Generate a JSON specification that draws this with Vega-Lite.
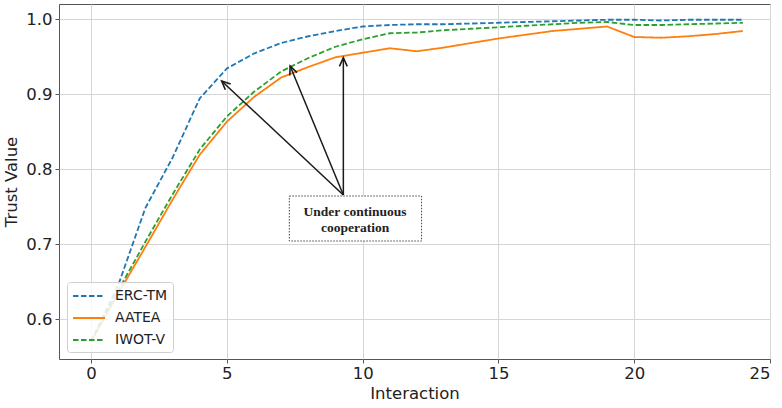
{
  "$schema": "https://vega.github.io/schema/vega-lite/v6.json",
  "width": 711,
  "height": 355,
  "autosize": {"type": "none"},
  "padding": {"left": 59, "top": 4, "right": 12, "bottom": 49},
  "background": "white",
  "config": {
    "view": {"stroke": "#555", "strokeWidth": 1},
    "axis": {
      "domain": false,
      "grid": true,
      "gridColor": "#d6d6d6",
      "gridWidth": 1,
      "tickColor": "#555",
      "tickSize": 4,
      "labelFont": "DejaVu Sans",
      "labelFontSize": 16.5,
      "labelColor": "#222",
      "titleFont": "DejaVu Sans",
      "titleFontSize": 16.5,
      "titleFontWeight": "normal",
      "titleColor": "#222"
    },
    "legend": {
      "labelFont": "DejaVu Sans",
      "labelFontSize": 14,
      "labelColor": "#222"
    }
  },
  "datasets": {
    "series": [
      {"x": 0, "series": "ERC-TM", "y": 0.570},
      {"x": 1, "series": "ERC-TM", "y": 0.645},
      {"x": 2, "series": "ERC-TM", "y": 0.748},
      {"x": 3, "series": "ERC-TM", "y": 0.815},
      {"x": 4, "series": "ERC-TM", "y": 0.894},
      {"x": 5, "series": "ERC-TM", "y": 0.934},
      {"x": 6, "series": "ERC-TM", "y": 0.954},
      {"x": 7, "series": "ERC-TM", "y": 0.968},
      {"x": 8, "series": "ERC-TM", "y": 0.977},
      {"x": 9, "series": "ERC-TM", "y": 0.984},
      {"x": 10, "series": "ERC-TM", "y": 0.990},
      {"x": 11, "series": "ERC-TM", "y": 0.992},
      {"x": 12, "series": "ERC-TM", "y": 0.993},
      {"x": 13, "series": "ERC-TM", "y": 0.993},
      {"x": 14, "series": "ERC-TM", "y": 0.994},
      {"x": 15, "series": "ERC-TM", "y": 0.995},
      {"x": 16, "series": "ERC-TM", "y": 0.996},
      {"x": 17, "series": "ERC-TM", "y": 0.997},
      {"x": 18, "series": "ERC-TM", "y": 0.998},
      {"x": 19, "series": "ERC-TM", "y": 0.999},
      {"x": 20, "series": "ERC-TM", "y": 0.999},
      {"x": 21, "series": "ERC-TM", "y": 0.998},
      {"x": 22, "series": "ERC-TM", "y": 0.999},
      {"x": 23, "series": "ERC-TM", "y": 0.999},
      {"x": 24, "series": "ERC-TM", "y": 0.999},
      {"x": 0, "series": "AATEA", "y": 0.570},
      {"x": 1, "series": "AATEA", "y": 0.634},
      {"x": 2, "series": "AATEA", "y": 0.696},
      {"x": 3, "series": "AATEA", "y": 0.759},
      {"x": 4, "series": "AATEA", "y": 0.819},
      {"x": 5, "series": "AATEA", "y": 0.863},
      {"x": 6, "series": "AATEA", "y": 0.896},
      {"x": 7, "series": "AATEA", "y": 0.922},
      {"x": 8, "series": "AATEA", "y": 0.936},
      {"x": 9, "series": "AATEA", "y": 0.949},
      {"x": 10, "series": "AATEA", "y": 0.955},
      {"x": 11, "series": "AATEA", "y": 0.961},
      {"x": 12, "series": "AATEA", "y": 0.957},
      {"x": 13, "series": "AATEA", "y": 0.962},
      {"x": 14, "series": "AATEA", "y": 0.968},
      {"x": 15, "series": "AATEA", "y": 0.974},
      {"x": 16, "series": "AATEA", "y": 0.979},
      {"x": 17, "series": "AATEA", "y": 0.984},
      {"x": 18, "series": "AATEA", "y": 0.987},
      {"x": 19, "series": "AATEA", "y": 0.990},
      {"x": 20, "series": "AATEA", "y": 0.976},
      {"x": 21, "series": "AATEA", "y": 0.975},
      {"x": 22, "series": "AATEA", "y": 0.977},
      {"x": 23, "series": "AATEA", "y": 0.980},
      {"x": 24, "series": "AATEA", "y": 0.984},
      {"x": 0, "series": "IWOT-V", "y": 0.570},
      {"x": 1, "series": "IWOT-V", "y": 0.638},
      {"x": 2, "series": "IWOT-V", "y": 0.703},
      {"x": 3, "series": "IWOT-V", "y": 0.766},
      {"x": 4, "series": "IWOT-V", "y": 0.826},
      {"x": 5, "series": "IWOT-V", "y": 0.870},
      {"x": 6, "series": "IWOT-V", "y": 0.903},
      {"x": 7, "series": "IWOT-V", "y": 0.930},
      {"x": 8, "series": "IWOT-V", "y": 0.948},
      {"x": 9, "series": "IWOT-V", "y": 0.963},
      {"x": 10, "series": "IWOT-V", "y": 0.973},
      {"x": 11, "series": "IWOT-V", "y": 0.981},
      {"x": 12, "series": "IWOT-V", "y": 0.982},
      {"x": 13, "series": "IWOT-V", "y": 0.985},
      {"x": 14, "series": "IWOT-V", "y": 0.987},
      {"x": 15, "series": "IWOT-V", "y": 0.989},
      {"x": 16, "series": "IWOT-V", "y": 0.991},
      {"x": 17, "series": "IWOT-V", "y": 0.993},
      {"x": 18, "series": "IWOT-V", "y": 0.995},
      {"x": 19, "series": "IWOT-V", "y": 0.996},
      {"x": 20, "series": "IWOT-V", "y": 0.992},
      {"x": 21, "series": "IWOT-V", "y": 0.992},
      {"x": 22, "series": "IWOT-V", "y": 0.993},
      {"x": 23, "series": "IWOT-V", "y": 0.994},
      {"x": 24, "series": "IWOT-V", "y": 0.995}
    ],
    "arrows": [
      {"x": 9.29, "y": 0.7653, "x2": 4.81, "y2": 0.9173, "angle": -46.8},
      {"x": 9.29, "y": 0.7653, "x2": 7.33, "y2": 0.9373, "angle": -22.4},
      {"x": 9.29, "y": 0.7653, "x2": 9.29, "y2": 0.9484, "angle": 0}
    ],
    "box": [
      {"x": 7.30, "x2": 12.17, "y": 0.764, "y2": 0.704, "tx": 9.72, "ty": 0.7431, "label": ["Under continuous", "cooperation"]}
    ]
  },
  "layer": [
    {
      "data": {"name": "series"},
      "mark": {"type": "line", "strokeWidth": 1.8, "clip": true},
      "encoding": {
        "x": {
          "field": "x", "type": "quantitative",
          "scale": {"domain": [-1.18, 25.0], "nice": false, "zero": false},
          "axis": {"values": [0, 5, 10, 15, 20, 25], "title": "Interaction", "labelPadding": 2, "titlePadding": 4}
        },
        "y": {
          "field": "y", "type": "quantitative",
          "scale": {"domain": [0.5467, 1.02], "nice": false, "zero": false},
          "axis": {"values": [0.6, 0.7, 0.8, 0.9, 1.0], "format": ".1f", "title": "Trust Value", "labelPadding": 3, "titlePadding": 6}
        },
        "color": {
          "field": "series", "type": "nominal",
          "scale": {"domain": ["ERC-TM", "AATEA", "IWOT-V"], "range": ["#1f77b4", "#ff7f0e", "#2ca02c"]},
          "legend": {
            "title": null,
            "orient": "none",
            "legendX": 8,
            "legendY": 278,
            "symbolType": "M -1 0 L 3 0",
            "symbolSize": 256,
            "symbolStrokeWidth": 2,
            "symbolFillColor": "transparent",
            "rowPadding": 6,
            "labelOffset": 25,
            "padding": 5,
            "fillColor": "rgba(255,255,255,0.85)",
            "strokeColor": "#d0d0d0",
            "cornerRadius": 3
          }
        },
        "strokeDash": {
          "field": "series", "type": "nominal",
          "scale": {"domain": ["ERC-TM", "AATEA", "IWOT-V"], "range": [[5.5, 2.5], [1, 0], [5.5, 2.5]]},
          "legend": null
        }
      }
    },
    {
      "data": {"name": "box"},
      "mark": {"type": "rect", "fill": "white", "stroke": "#444", "strokeWidth": 1, "strokeDash": [1.5, 1.5]},
      "encoding": {
        "x": {"field": "x", "type": "quantitative"},
        "x2": {"field": "x2"},
        "y": {"field": "y", "type": "quantitative"},
        "y2": {"field": "y2"}
      }
    },
    {
      "data": {"name": "box"},
      "mark": {"type": "text", "font": "Liberation Serif", "fontWeight": "bold", "fontSize": 13.5, "color": "#222", "align": "center", "baseline": "middle", "lineHeight": 16.6},
      "encoding": {
        "x": {"field": "tx", "type": "quantitative"},
        "y": {"field": "ty", "type": "quantitative"},
        "text": {"field": "label"}
      }
    },
    {
      "data": {"name": "arrows"},
      "mark": {"type": "rule", "color": "#1a1a1a", "strokeWidth": 1.5},
      "encoding": {
        "x": {"field": "x", "type": "quantitative"},
        "y": {"field": "y", "type": "quantitative"},
        "x2": {"field": "x2"},
        "y2": {"field": "y2"}
      }
    },
    {
      "data": {"name": "arrows"},
      "mark": {"type": "point", "shape": "M -0.45 1 L 0 0 L 0.45 1", "filled": false, "stroke": "#1a1a1a", "strokeWidth": 1.6, "size": 300, "opacity": 1},
      "encoding": {
        "x": {"field": "x2", "type": "quantitative"},
        "y": {"field": "y2", "type": "quantitative"},
        "angle": {"field": "angle", "type": "quantitative", "scale": null}
      }
    }
  ]
}
